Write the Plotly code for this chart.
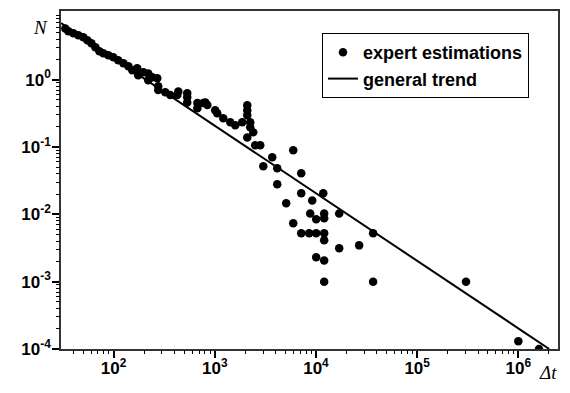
import plotly.graph_objects as go

# expert estimations (delta t, N)
dt = [33.3, 35.7, 40.0, 44.8, 50.2, 55.0, 60.3, 66.0, 72.3, 79.1, 88.7, 99.3, 111, 125, 140,
      153, 171, 175, 197, 220, 220, 241, 270, 276, 276, 324, 363, 426, 436, 534, 534, 534,
      673, 673, 805, 844, 769, 1009, 1057, 1213, 1422, 1593, 1867, 2093, 2093, 2093, 2240,
      2240, 2400, 2093, 2510, 2814, 3696, 3015, 4140, 5960, 7150, 4140, 7150, 11800, 9180,
      5080, 8770, 12050, 16960, 12050, 10050, 5960, 7150, 8570, 10050, 12050, 12050, 16960,
      26700, 36700, 10050, 12050, 12050, 36700, 304000, 1000000, 1600000]
n_est = [5.74, 5.24, 4.89, 4.57, 4.27, 3.85, 3.47, 3.03, 2.64, 2.47, 2.30, 2.15, 1.94, 1.75, 1.58,
         1.38, 1.48, 1.16, 1.29, 1.24, 0.98, 1.09, 1.05, 0.80, 0.70, 0.65, 0.59, 0.59, 0.67, 0.55,
         0.46, 0.63, 0.45, 0.376, 0.46, 0.42, 0.45, 0.351, 0.317, 0.267, 0.233, 0.210, 0.233,
         0.417, 0.351, 0.296, 0.233, 0.196, 0.165, 0.139, 0.106, 0.106, 0.0703, 0.0517, 0.0483,
         0.0893, 0.0407, 0.0279, 0.0205, 0.0205, 0.0161, 0.0146, 0.0103, 0.0103, 0.0103,
         0.00872, 0.00843, 0.00735, 0.00522, 0.00522, 0.00522, 0.00522, 0.00411, 0.00313,
         0.00346, 0.00522, 0.0023, 0.00207, 0.001, 0.001, 0.001, 0.00013, 0.0001]

# general trend endpoints
trend_dt = [30.2, 2.02e6]
trend_n = [6.95, 1.0e-4]

x_tick_vals = [1e2, 1e3, 1e4, 1e5, 1e6]
x_tick_text = ["10<sup>2</sup>", "10<sup>3</sup>", "10<sup>4</sup>", "10<sup>5</sup>", "10<sup>6</sup>"]
y_tick_vals = [1e-4, 1e-3, 1e-2, 1e-1, 1e0]
y_tick_text = ["10<sup>-4</sup>", "10<sup>-3</sup>", "10<sup>-2</sup>", "10<sup>-1</sup>", "10<sup>0</sup>"]

# minor tick positions (2..9 within each decade)
minor_x = [m * 10 ** e for e in range(1, 7) for m in range(2, 10)]
minor_y = [m * 10.0 ** e for e in range(-4, 1) for m in range(2, 10)]

X_RANGE = [1.48, 6.392]
Y_RANGE = [-4, 1.02]

fig = go.Figure()
fig.add_trace(go.Scatter(x=dt, y=n_est, mode="markers", name="expert estimations",
                         marker=dict(color="black", size=8.5)))
fig.add_trace(go.Scatter(x=trend_dt, y=trend_n, mode="lines", name="general trend",
                         line=dict(color="black", width=2), xaxis="x2", yaxis="y2"))

tfont = dict(family="Arial, Liberation Sans", size=17, color="black", weight="bold")

fig.update_layout(
    xaxis=dict(type="log", range=X_RANGE, showgrid=False, zeroline=False, automargin=False,
               showline=True, linecolor="#333", linewidth=1.5, mirror=True,
               ticks="outside", ticklen=7, tickwidth=1.5, tickcolor="black",
               tickvals=x_tick_vals, ticktext=x_tick_text, ticklabelstandoff=-4,
               tickfont=tfont),
    yaxis=dict(type="log", range=Y_RANGE, showgrid=False, zeroline=False, automargin=False,
               showline=True, linecolor="#333", linewidth=1.5, mirror=True,
               ticks="outside", ticklen=7, tickwidth=1.5, tickcolor="black",
               tickvals=y_tick_vals, ticktext=y_tick_text, ticklabelstandoff=-2,
               tickfont=tfont),
    xaxis2=dict(type="log", range=X_RANGE, overlaying="x", anchor="y", side="bottom",
                showgrid=False, zeroline=False, showline=False, automargin=False,
                ticks="outside", ticklen=4, tickwidth=1.2, tickcolor="black",
                tickmode="array", tickvals=minor_x, showticklabels=False),
    yaxis2=dict(type="log", range=Y_RANGE, overlaying="y", anchor="x", side="left",
                showgrid=False, zeroline=False, showline=False, automargin=False,
                ticks="outside", ticklen=4, tickwidth=1.2, tickcolor="black",
                tickmode="array", tickvals=minor_y, showticklabels=False),
)

pw = 570 - 61 - 12
ph = 393 - 11 - 44


def px2paper(x, y):
    return (x - 61) / pw, 1 - (y - 11) / ph


nx, ny = px2paper(40, 27)
dx, dy = px2paper(559, 372)
lx, ly = px2paper(322, 33)

fig.update_layout(
    width=570, height=393,
    margin=dict(l=61, r=12, t=11, b=44, autoexpand=False),
    paper_bgcolor="white", plot_bgcolor="white",
    showlegend=True,
    legend=dict(x=lx, y=ly, xanchor="left", yanchor="top",
                bordercolor="black", borderwidth=1, bgcolor="white",
                font=dict(family="Arial, Liberation Sans", size=18, color="black", weight="bold"),
                tracegroupgap=0, itemwidth=30),
    annotations=[
        dict(text="<i>N</i>", x=nx, y=ny, xref="paper", yref="paper", showarrow=False,
             xanchor="center", yanchor="middle",
             font=dict(family="Times New Roman, Liberation Serif", size=19, color="black")),
        dict(text="<i>Δt</i>", x=dx, y=dy, xref="paper", yref="paper", showarrow=False,
             xanchor="right", yanchor="middle",
             font=dict(family="Times New Roman, Liberation Serif", size=19, color="black")),
    ],
)

fig.write_html("out.html",
               config={"displayModeBar": False},
               post_script="document.body.style.margin='0';document.body.style.overflow='hidden';")
